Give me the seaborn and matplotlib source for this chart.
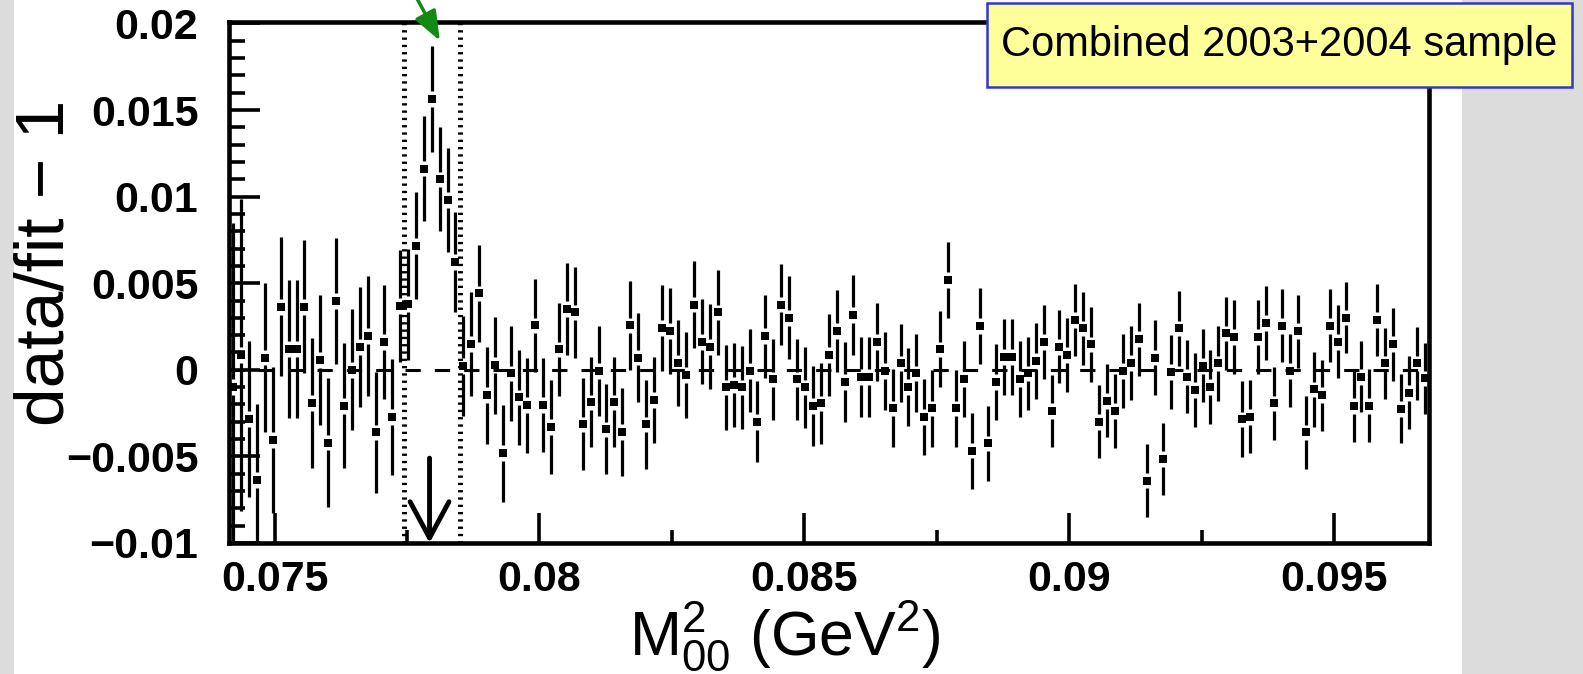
import numpy as np
import matplotlib
matplotlib.use("Agg")
import matplotlib.pyplot as plt
import seaborn as sns
import pandas as pd
from matplotlib.patches import Rectangle
from matplotlib.ticker import FixedLocator, FixedFormatter

# ---------------- data ----------------
# histogram binning of M00^2 (GeV^2)
bin_start = 0.07414
bin_width = 0.00015
n_bins = 151

# data/fit - 1 per bin
ratio = [
    -0.00100, 0.00085, -0.00284, -0.00636, 0.00071, -0.00406, 0.00364, 0.00119, 0.00119, 0.00364,
    -0.00190, 0.00056, -0.00420, 0.00396, -0.00208, 0.00000, 0.00133, 0.00194, -0.00361, 0.00162,
    -0.00271, 0.00368, 0.00379, 0.00716, 0.01162, 0.01562, 0.01100, 0.00979, 0.00623, 0.00021,
    0.00148, 0.00441, -0.00146, 0.00027, -0.00482, -0.00021, -0.00159, -0.00204, 0.00256, -0.00204,
    -0.00329, 0.00118, 0.00352, 0.00331, -0.00315, -0.00188, -0.00006, -0.00344, -0.00188, -0.00358,
    0.00256, 0.00071, -0.00315, -0.00175, 0.00242, 0.00225, 0.00040, -0.00031, 0.00377, 0.00162,
    0.00133, 0.00331, -0.00102, -0.00088, -0.00102, -0.00006, -0.00300, 0.00194, -0.00055, 0.00377,
    0.00300, -0.00055, -0.00102, -0.00209, -0.00194, 0.00085, 0.00223, -0.00069, 0.00316, -0.00040,
    -0.00040, 0.00162, -0.00006, -0.00223, 0.00037, -0.00098, -0.00021, -0.00271, -0.00223, 0.00118,
    0.00518, -0.00223, -0.00054, -0.00467, 0.00254, -0.00425, -0.00069, 0.00075, 0.00075, -0.00054,
    -0.00021, 0.00052, 0.00162, -0.00238, 0.00133, 0.00085, 0.00287, 0.00239, 0.00147, -0.00300,
    -0.00179, -0.00238, -0.00006, 0.00040, 0.00177, -0.00640, 0.00071, -0.00515, -0.00012, 0.00239,
    -0.00040, -0.00117, 0.00023, -0.00098, 0.00037, 0.00210, 0.00190, -0.00286, -0.00271, 0.00190,
    0.00271, -0.00194, 0.00254, -0.00006, 0.00223, -0.00361, -0.00113, -0.00146, 0.00254, 0.00162,
    0.00302, -0.00208, -0.00040, -0.00208, 0.00287, 0.00037, 0.00148, -0.00225, -0.00133, 0.00037,
    -0.00050,
]

# statistical error per bin
ratio_err = [
    0.00950, 0.00900, 0.00450, 0.00440, 0.00430, 0.00420, 0.00400, 0.00400, 0.00400, 0.00385,
    0.00375, 0.00375, 0.00370, 0.00365, 0.00360, 0.00350, 0.00345, 0.00345, 0.00350, 0.00330,
    0.00335, 0.00325, 0.00320, 0.00310, 0.00305, 0.00305, 0.00300, 0.00300, 0.00290, 0.00290,
    0.00300, 0.00280, 0.00280, 0.00280, 0.00280, 0.00275, 0.00275, 0.00275, 0.00270, 0.00270,
    0.00270, 0.00270, 0.00265, 0.00265, 0.00265, 0.00260, 0.00260, 0.00260, 0.00260, 0.00255,
    0.00255, 0.00255, 0.00255, 0.00250, 0.00250, 0.00250, 0.00250, 0.00250, 0.00250, 0.00245,
    0.00245, 0.00245, 0.00245, 0.00245, 0.00240, 0.00240, 0.00235, 0.00240, 0.00235, 0.00235,
    0.00240, 0.00235, 0.00235, 0.00230, 0.00235, 0.00235, 0.00235, 0.00230, 0.00230, 0.00230,
    0.00230, 0.00225, 0.00225, 0.00225, 0.00225, 0.00225, 0.00225, 0.00220, 0.00220, 0.00220,
    0.00220, 0.00220, 0.00220, 0.00220, 0.00220, 0.00215, 0.00220, 0.00220, 0.00220, 0.00220,
    0.00210, 0.00220, 0.00215, 0.00210, 0.00210, 0.00215, 0.00210, 0.00210, 0.00215, 0.00210,
    0.00210, 0.00215, 0.00215, 0.00215, 0.00210, 0.00210, 0.00215, 0.00210, 0.00215, 0.00215,
    0.00210, 0.00215, 0.00210, 0.00215, 0.00215, 0.00210, 0.00215, 0.00220, 0.00210, 0.00215,
    0.00215, 0.00210, 0.00210, 0.00210, 0.00210, 0.00210, 0.00215, 0.00205, 0.00210, 0.00210,
    0.00205, 0.00210, 0.00205, 0.00210, 0.00210, 0.00205, 0.00210, 0.00200, 0.00210, 0.00210,
    0.00205,
]

x_ticks = [0.075, 0.08, 0.085, 0.09, 0.095]
x_tick_labels = ["0.075", "0.08", "0.085", "0.09", "0.095"]
x_minor_ticks = [0.0775, 0.0825, 0.0875, 0.0925]
y_ticks = [-0.01, -0.005, 0.0, 0.005, 0.01, 0.015, 0.02]
y_tick_labels = ["\u22120.01", "\u22120.005", "0", "0.005", "0.01", "0.015", "0.02"]
y_minor_step = 0.001

# annotations
window_edges = [0.077435, 0.078491]       # dotted vertical lines
cusp_position = 0.077925                  # black arrow (4 m_pi+^2)
cusp_arrow_top = -0.0051
green_arrow_tip = (0.07812, 0.0190)
green_arrow_tail = (0.07750, 0.0225)
box_text = "Combined 2003+2004 sample"
x_title = r"$\mathrm{M}_{\mathrm{00}}^{\mathrm{2}}$ (GeV$^{\mathrm{2}}$)"
y_title = "data/fit \u2212 1"

# ---------------- style ----------------
sns.set_style("white")
plt.rcParams["font.family"] = ["Liberation Sans", "DejaVu Sans"]
plt.rcParams["mathtext.fontset"] = "custom"
plt.rcParams["mathtext.rm"] = "Liberation Sans"
plt.rcParams["mathtext.it"] = "Liberation Sans:italic"
plt.rcParams["mathtext.bf"] = "Liberation Sans:bold"
plt.rcParams["text.color"] = "black"
plt.rcParams["xtick.color"] = "black"
plt.rcParams["ytick.color"] = "black"
plt.rcParams["axes.labelcolor"] = "black"
plt.rcParams["axes.edgecolor"] = "black"

W, H = 1583, 674
fig = plt.figure(figsize=(W / 100, H / 100), dpi=100, facecolor="#dcdcdc")
fig.patches.append(Rectangle((14 / W, 0), (1462 - 14) / W, 1, transform=fig.transFigure,
                             facecolor="white", edgecolor="none", zorder=-5))

ax_l, ax_r, ax_t, ax_b = 229, 1429, 21.7, 543
ax = fig.add_axes([ax_l / W, 1 - ax_b / H, (ax_r - ax_l) / W, (ax_b - ax_t) / H])
ax.set_facecolor("white")

edges = bin_start + bin_width * np.arange(n_bins + 1)
centers = 0.5 * (edges[:-1] + edges[1:])
df = pd.DataFrame({"m2": centers, "ratio": ratio, "err": ratio_err})

ax.set_xlim(edges[0], edges[-1])
ax.set_ylim(-0.01, 0.0201)

# zero line and window lines
ax.axhline(0, color="black", lw=2.2, ls=(0, (5.0, 4.6)), zorder=2)
for xe in window_edges:
    ax.axvline(xe, color="black", lw=3.6, ls=(0, (0.46, 1.0)), dash_capstyle="butt", zorder=2)

# error bars with a gap around the marker
gap = 0.00045
up_lo = df["ratio"] + gap
up_hi = df["ratio"] + df["err"]
dn_lo = df["ratio"] - df["err"]
dn_hi = df["ratio"] - gap
ax.vlines(df["m2"], up_lo, up_hi, color="black", lw=2.3, zorder=3)
ax.vlines(df["m2"], dn_lo, dn_hi, color="black", lw=2.3, zorder=3)

sns.scatterplot(data=df, x="m2", y="ratio", marker="s", s=28, color="black",
                edgecolor="black", linewidth=0, ax=ax, legend=False, zorder=4)

# arrows
ax.annotate("", xy=(cusp_position, -0.01), xytext=(cusp_position, cusp_arrow_top),
            arrowprops=dict(arrowstyle="->,head_length=1.3,head_width=0.7", lw=3.5,
                            color="black", shrinkA=0, shrinkB=0, mutation_scale=20),
            zorder=5)
ax.annotate("", xy=green_arrow_tip, xytext=green_arrow_tail, annotation_clip=False,
            arrowprops=dict(arrowstyle="-|>,head_length=0.9,head_width=0.35", lw=2.5,
                            color="#138a13", shrinkA=0, shrinkB=0, mutation_scale=20,
                            clip_on=False),
            zorder=6)

# axes styling
for s in ax.spines.values():
    s.set_linewidth(3.3)
    s.set_color("black")
ax.xaxis.set_major_locator(FixedLocator(x_ticks))
ax.xaxis.set_major_formatter(FixedFormatter(x_tick_labels))
ax.xaxis.set_minor_locator(FixedLocator(x_minor_ticks))
ax.yaxis.set_major_locator(FixedLocator(y_ticks))
ax.yaxis.set_major_formatter(FixedFormatter(y_tick_labels))
ax.yaxis.set_minor_locator(matplotlib.ticker.MultipleLocator(y_minor_step))
ax.tick_params(axis="x", which="major", direction="in", length=21.5, width=2.6, pad=12,
               bottom=True, top=False, colors="black")
ax.tick_params(axis="x", which="minor", direction="in", length=9.5, width=2.6,
               bottom=True, top=False, colors="black")
ax.tick_params(axis="y", which="major", direction="in", length=22, width=2.6, pad=22,
               left=True, right=False, colors="black")
ax.tick_params(axis="y", which="minor", direction="in", length=11.5, width=2.6,
               left=True, right=False, colors="black")
for lab in ax.get_xticklabels() + ax.get_yticklabels():
    lab.set_fontweight("bold")
    lab.set_fontsize(31)
    lab.set_color("black")
ax.set_xlabel("")
ax.set_ylabel("")

fig.text(46 / W, 1 - 263 / H, y_title, rotation=90, ha="center", va="center", fontsize=50,
         color="black")
fig.text(785 / W, 1 - 655 / H, x_title, ha="center", va="baseline", fontsize=45, color="black")

# sample box
fig.patches.append(Rectangle((987 / W, 1 - 87 / H), 585 / W, 84 / H, transform=fig.transFigure,
                             facecolor="#ffff99", edgecolor="#3535c8", lw=1.8, zorder=8))
fig.text(1279.5 / W, 1 - 45 / H, box_text, ha="center", va="center", fontsize=30, zorder=9,
         color="black")

fig.savefig("out.png", dpi=100, facecolor=fig.get_facecolor())
